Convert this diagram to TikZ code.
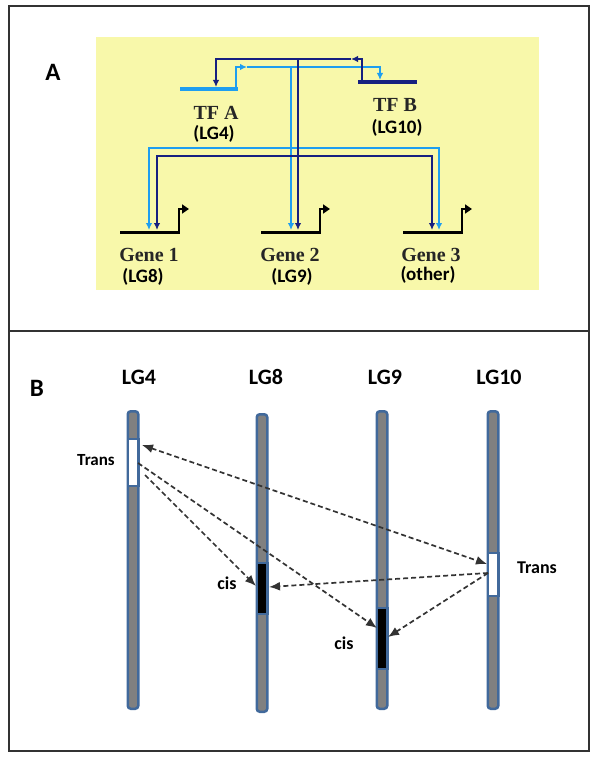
\documentclass[tikz,border=0pt]{standalone}
\usepackage{fontspec}
\setmainfont{Liberation Serif}
\newfontfamily\calfont{Carlito}
\usetikzlibrary{arrows.meta}
\definecolor{ybg}{RGB}{248,248,170}
\definecolor{lblue}{RGB}{30,158,240}
\definecolor{dblue}{RGB}{22,32,128}
\definecolor{chromgrey}{RGB}{128,128,128}
\definecolor{chromblue}{RGB}{65,105,155}
\definecolor{framegrey}{RGB}{50,50,50}
\begin{document}
\begin{tikzpicture}[x=1pt,y=-1pt,
  lb/.style={draw=lblue, line width=2.2pt},
  db/.style={draw=dblue, line width=2.2pt},
  tipA/.style={-{Latex[length=7pt,width=6.5pt]}},
  gene/.style={draw=black, line width=3pt},
  prom/.style={draw=black, line width=2.5pt, -{Triangle[length=7pt,width=9pt]}},
  serlab/.style={text=black!85, font=\fontsize{20}{22}\selectfont\bfseries},
  sanlab/.style={text=black, font=\calfont\bfseries\fontsize{19}{21}\selectfont},
  lglab/.style={text=black, font=\calfont\bfseries\fontsize{22}{24}\selectfont},
  smlab/.style={text=black, font=\calfont\bfseries\fontsize{18}{20}\selectfont},
  panlab/.style={text=black, font=\calfont\bfseries\fontsize{25}{27}\selectfont},
  chrom/.style={draw=chromblue, fill=chromgrey, line width=2.5pt, rounded corners=3pt, minimum width=10.5pt, inner sep=0pt},
  band/.style={draw=chromblue, line width=2.5pt, minimum width=10.5pt, inner sep=0pt},
  darr/.style={draw=black!80, line width=1.7pt, dash pattern=on 5pt off 3pt, -{Latex[length=11pt,width=9pt]}},
  darr2/.style={draw=black!80, line width=1.7pt, dash pattern=on 5pt off 3pt, {Latex[length=11pt,width=9pt]}-{Latex[length=11pt,width=9pt]}}
]
\useasboundingbox (0,0) rectangle (600,762);
% frame
\draw[framegrey, line width=2pt] (9,6) rectangle (589,751);
\draw[framegrey, line width=2pt] (9,331) -- (589,331);
% panel A
\node[panlab] (la) at (53,72) {A};
\fill[ybg] (96,37) rectangle (539,290);
% TF genes
\draw[lb, line width=3.2pt] (180,89) -- (238,89);
\draw[db, line width=3.2pt] (358,82) -- (417,82);
% light blue network
\draw[lb, tipA] (236,89) -- (236,67) -- (247,67);
\draw[lb, tipA] (247,67) -- (380,67) -- (380,80);
\draw[lb, tipA] (291,67) -- (291,230);
\draw[lb, tipA] (291,148) -| (149,230);
\draw[lb, tipA] (291,148) -| (439,230);
% dark blue network
\draw[db, tipA] (362,82) -- (362,59) -- (351,59);
\draw[db, tipA] (351,59) -- (216,59) -- (216,87);
\draw[db, tipA] (298,59) -- (298,230);
\draw[db, tipA] (298,156) -| (157,230);
\draw[db, tipA] (298,156) -| (432,230);
% target genes
\draw[gene] (120,232) -- (180,232);
\draw[prom] (179,233) -- (179,209) -- (189,209);
\draw[gene] (261,232) -- (321,232);
\draw[prom] (320,233) -- (320,209) -- (330,209);
\draw[gene] (403,232) -- (463,232);
\draw[prom] (462,233) -- (462,209) -- (472,209);
% labels A
\node[serlab] (tfa) at (216,113) {TF A};
\node[sanlab] (tfal) at (214,134) {(LG4)};
\node[serlab] (tfb) at (395,105) {TF B};
\node[sanlab] (tfbl) at (397,128) {(LG10)};
\node[serlab] (g1) at (149,255) {Gene 1};
\node[sanlab] (g1l) at (143,277) {(LG8)};
\node[serlab] (g2) at (290,255) {Gene 2};
\node[sanlab] (g2l) at (292,277) {(LG9)};
\node[serlab] (g3) at (431,255) {Gene 3};
\node[sanlab] (g3l) at (428,275) {(other)};
% panel B
\node[panlab] (lbl) at (37,388) {B};
\node[lglab] (n4) at (139,377) {LG4};
\node[lglab] (n8) at (266,377) {LG8};
\node[lglab] (n9) at (385,377) {LG9};
\node[lglab] (n10) at (499,377) {LG10};
\node[chrom, minimum height=297.5pt] (c4) at (133,560) {};
\node[chrom, minimum height=297.5pt] (c8) at (262,563) {};
\node[chrom, minimum height=297.5pt] (c9) at (382,560) {};
\node[chrom, minimum height=297.5pt] (c10) at (493,560) {};
\node[band, fill=white, minimum height=47pt] (b4) at (133,462.5) {};
\node[band, fill=white, minimum height=43pt] (b10) at (493,574.5) {};
\node[band, fill=black, minimum height=51pt] (b8) at (262,588.5) {};
\node[band, fill=black, minimum height=61pt] (b9) at (382,638.5) {};
\node[smlab, font=\calfont\bfseries\fontsize{17}{19}\selectfont] (tr4) at (96,460) {Trans};
\node[smlab] (tr10) at (537,568) {Trans};
\node[smlab] (cis8) at (227,583) {cis};
\node[smlab] (cis9) at (344,643) {cis};
% arrow endpoints
\coordinate (p4a) at (142,445);
\coordinate (p10a) at (487,564);
\coordinate (p4b) at (138,463);
\coordinate (p9a) at (377,628);
\coordinate (p4c) at (145,475);
\coordinate (p8a) at (256,586);
\coordinate (p10b) at (488,573);
\coordinate (p8b) at (269,587);
\coordinate (p9b) at (388,637);
\draw[darr2] (p4a) -- (p10a);
\draw[darr] (p4b) -- (p9a);
\draw[darr] (p4c) -- (p8a);
\draw[darr] (p10b) -- (p8b);
\draw[darr] (p10b) -- (p9b);
\end{tikzpicture}
\end{document}
